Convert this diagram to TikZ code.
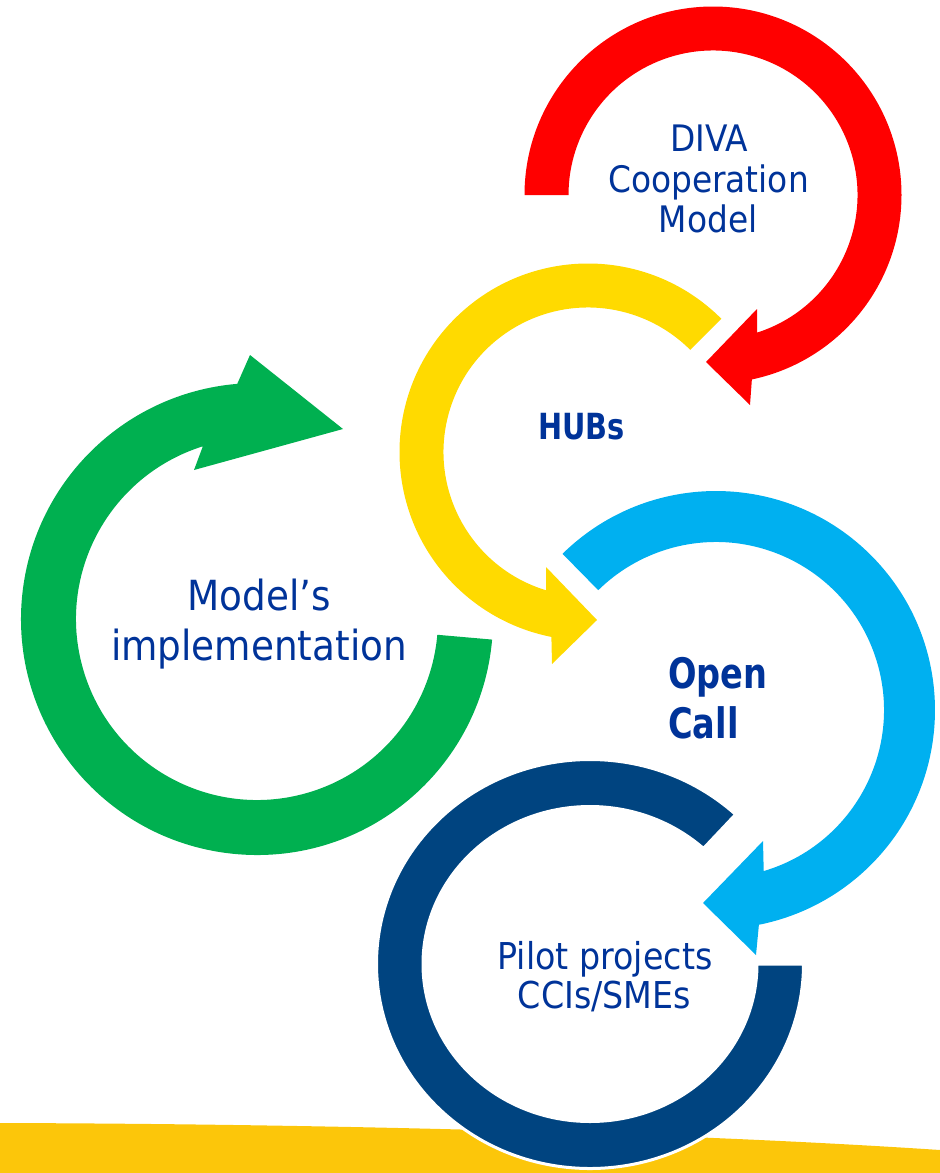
\documentclass[tikz,border=0pt]{standalone}
\usepackage{fontspec}
\newfontfamily\lblfont{DejaVu Sans}[FakeStretch=0.9]
\newfontfamily\lblbold{DejaVu Sans}[FakeStretch=0.8]
\definecolor{cred}{RGB}{255,0,0}
\definecolor{cyel}{RGB}{255,218,0}
\definecolor{clblue}{RGB}{0,176,240}
\definecolor{cdblue}{RGB}{0,68,128}
\definecolor{cgreen}{RGB}{0,176,80}
\definecolor{ctext}{RGB}{0,51,153}
\definecolor{cband}{RGB}{252,198,10}
\begin{document}
\begin{tikzpicture}[x=1pt,y=1pt,
  lbl/.style={inner sep=0pt, text=ctext, anchor=base, font=\lblfont\fontsize{36.5}{40}\selectfont},
  lblbig/.style={lbl, font=\lblfont\fontsize{41.5}{46}\selectfont},
  lblpilot/.style={lbl, font=\lblfont\fontsize{37}{40}\selectfont},
  lblb/.style={inner sep=0pt, text=ctext, font=\lblbold\bfseries\fontsize{42}{46}\selectfont},
  lblhub/.style={lblb, anchor=base, font=\lblbold\bfseries\fontsize{36}{40}\selectfont}]
\useasboundingbox (0,0) rectangle (940,-1173);
% bottom band
\fill[cband] (0,-1123) .. controls (350,-1124) and (700,-1134) .. (940,-1150) -- (940,-1173) -- (0,-1173) -- cycle;
% centres
\coordinate (redc) at (713,-195);
\coordinate (yelc) at (588,-452);
\coordinate (bluc) at (716,-710);
\coordinate (dbc) at (590,-964);
\coordinate (grc) at (257,-619);
% red arrow
\fill[cred, shift={(redc)}] (180:188.5) arc[start angle=180, end angle=-78.1, radius=188.5]
  -- (37,-210) -- (-7,-167) -- (44,-114) -- (-72.2:144.5)
  arc[start angle=-72.2, end angle=180, radius=144.5] -- cycle;
% yellow arrow
\fill[cyel, shift={(yelc)}] (45:188.5) arc[start angle=45, end angle=258.8, radius=188.5]
  -- (-36,-212) -- (9,-168) -- (-42,-115) -- (253.2:144.5)
  arc[start angle=253.2, end angle=45, radius=144.5] -- cycle;
% light blue arrow
\fill[clblue, shift={(bluc)}] (134.5:219) arc[start angle=134.5, end angle=-78.7, radius=219]
  -- (40,-245) -- (-13,-193) -- (47,-131) -- (-73.5:168)
  arc[start angle=-73.5, end angle=134.5, radius=168] -- cycle;
% green arrow
\fill[cgreen, shift={(grc)}] (-5:236) arc[start angle=-5, end angle=-265.2, radius=236]
  -- (-7,264) -- (86,190) -- (-63,149) -- (-252.6:181)
  arc[start angle=-252.6, end angle=-5, radius=181] -- cycle;
% dark blue ring
\filldraw[fill=cdblue, draw=white, line width=3, shift={(dbc)}] (47:213.5 and 204.5)
  arc[start angle=47, end angle=360, x radius=213.5, y radius=204.5]
  -- (167,0) arc[start angle=360, end angle=47.2, x radius=167, y radius=157.5] -- cycle;
% labels
\node[lbl] (diva1) at (709.5,-151) {DIVA};
\node[lbl] (diva2) at (708.5,-192) {Cooperation};
\node[lbl] (diva3) at (708,-232) {Model};
\node[lblhub] (hubs) at (581.5,-439) {HUBs};
\node[lblb, anchor=base west] (open1) at (668,-688) {Open};
\node[lblb, anchor=base west] (open2) at (668,-738) {Call};
\node[lblbig] (impl1) at (259.5,-610) {Model’s};
\node[lblbig] (impl2) at (259,-660) {implementation};
\node[lblpilot] (pilot1) at (605,-969) {Pilot projects};
\node[lblpilot] (pilot2) at (604.5,-1008) {CCIs/SMEs};
\end{tikzpicture}
\end{document}
